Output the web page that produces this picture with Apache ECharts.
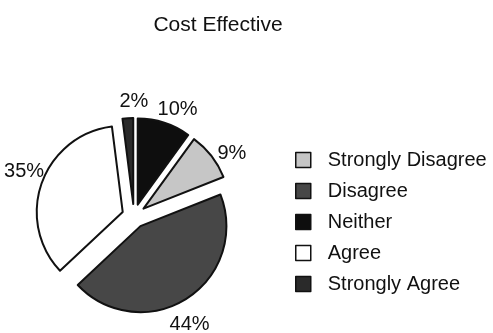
<!DOCTYPE html>
<html><head><meta charset="utf-8">
<script src="https://cdn.jsdelivr.net/npm/echarts@6/dist/echarts.min.js"></script>
<style>html,body{margin:0;padding:0;background:#fff}#c{width:493px;height:333px}</style>
</head><body><div id="c"></div>
<script>
const title = "Cost Effective";
const legendOrder = ["Strongly Disagree", "Disagree", "Neither", "Agree", "Strongly Agree"];
const sliceNames = ["Neither", "Strongly Disagree", "Disagree", "Agree", "Strongly Agree"];
const sliceValues = [10, 9, 44, 35, 2];
const colorMap = {"Strongly Disagree": "#c6c6c6", "Disagree": "#474747", "Neither": "#0e0e0e", "Agree": "#ffffff", "Strongly Agree": "#2a2a2a"};

const chart = echarts.init(document.getElementById('c'));
const font = 'Liberation Sans';
const pieData = sliceNames.map((n, i) => ({name: n, value: sliceValues[i], selected: true, itemStyle: {color: colorMap[n]}}));
const labelData = sliceNames.map((n, i) => ({name: n, value: sliceValues[i]}));
chart.setOption({
  animation: false,
  backgroundColor: '#fff',
  title: {text: title, left: 213, top: 10, textAlign: 'center',
    textStyle: {fontFamily: font, fontSize: 21, fontWeight: 'normal', color: '#111'}},
  legend: {data: legendOrder, orient: 'vertical', left: 290, top: 145, itemGap: 11,
    itemWidth: 15, itemHeight: 15, icon: 'rect',
    itemStyle: {borderColor: '#111', borderWidth: 1.5},
    textStyle: {fontFamily: font, fontSize: 20, color: '#111', padding: [0, 0, 0, 12]},
    selectedMode: false},
  series: [{
    type: 'pie', center: [134, 216], radius: [0, 86], startAngle: 90, clockwise: true,
    selectedMode: 'multiple', selectedOffset: 12,
    data: pieData,
    itemStyle: {borderColor: '#111', borderWidth: 2},
    label: {show: false},
    labelLine: {show: false},
    emphasis: {disabled: true}
  }, {
    type: 'pie', center: [133, 220], radius: [0, 232], startAngle: 86, clockwise: true,
    silent: true, z: 1,
    data: labelData,
    itemStyle: {color: 'rgba(0,0,0,0)', borderWidth: 0},
    label: {show: true, position: 'inside', formatter: '{c}%', fontFamily: font,
      fontSize: 20, color: '#111'},
    labelLine: {show: false},
    emphasis: {disabled: true}
  }]
});
</script></body></html>
